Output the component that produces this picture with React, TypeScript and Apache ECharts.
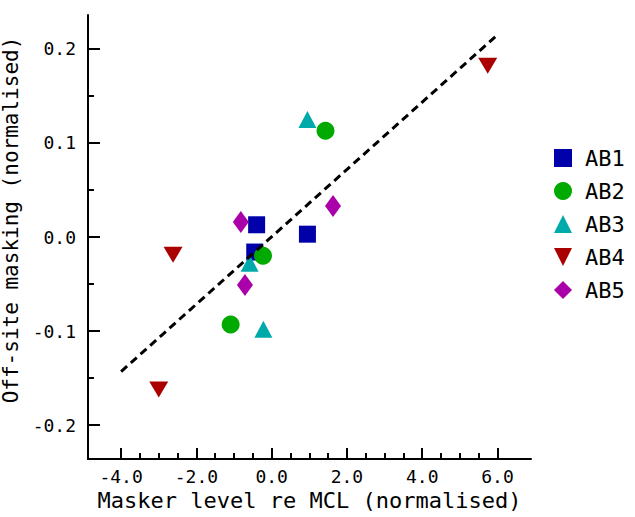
import React, { useEffect, useRef } from 'react';
import * as echarts from 'echarts';

const seriesNames = ['AB1', 'AB2', 'AB3', 'AB4', 'AB5'];
const seriesColors = ['#0000AA', '#00AA00', '#00AAAA', '#AA0000', '#AA00AA'];
const ab1 = [[-0.40, 0.013], [0.95, 0.003], [-0.45, -0.016]];
const ab2 = [[1.43, 0.113], [-0.23, -0.020], [-1.09, -0.093]];
const ab3 = [[0.95, 0.125], [-0.585, -0.028], [-0.22, -0.098]];
const ab4 = [[5.74, 0.182], [-2.62, -0.019], [-3.0, -0.162]];
const ab5 = [[-0.82, 0.016], [1.63, 0.033], [-0.71, -0.051]];
const fitLine = [[-4.0, -0.143], [6.0, 0.215]];

const xMajorTicks = [-4, -2, 0, 2, 4, 6];
const xMinorTicks = [-3.5, -3, -2.5, -1.5, -1, -0.5, 0.5, 1, 1.5, 2.5, 3, 3.5, 4.5, 5, 5.5];
const yMajorTicks = [-0.2, -0.1, 0, 0.1, 0.2];
const yMinorTicks = [-0.15, -0.05, 0.05, 0.15];

const X_MIN = -4.88;
const X_MAX = 6.89;
const Y_MIN = -0.236;
const Y_MAX = 0.236;

const FONT = 'DejaVu Sans Mono';

export default function App() {
  const ref = useRef<HTMLDivElement>(null);
  useEffect(() => {
    if (!ref.current) return;
    const chart = echarts.init(ref.current, null, { renderer: 'svg' });
    const axisLineStyle = { color: '#000', width: 2 };
    const symbols = ['rect', 'circle', 'triangle', 'path://M0,0L2,0L1,2Z', 'diamond'];
    const sizes: any[] = [17, 18, [18, 17], [19, 16], [16, 22]];
    const datas = [ab1, ab2, ab3, ab4, ab5];
    const scatter = seriesNames.map((name, i) => ({
      name,
      type: 'scatter',
      xAxisIndex: 0,
      yAxisIndex: 0,
      data: datas[i],
      symbol: symbols[i],
      symbolSize: sizes[i],
      itemStyle: { color: seriesColors[i], opacity: 1 },
      z: 2 + i,
    }));
    chart.setOption({
      animation: false,
      backgroundColor: '#fff',
      grid: { left: 88, right: 104, top: 15, bottom: 58, containLabel: false, outerBoundsMode: 'none' },
      legend: {
        data: seriesNames,
        orient: 'vertical',
        left: 549,
        top: 142,
        itemWidth: 18,
        itemHeight: 18,
        itemGap: 11,
        textStyle: { fontFamily: FONT, fontSize: 22, color: '#000', padding: [0, 0, 0, 8] },
      },
      xAxis: [
        {
          type: 'value',
          position: 'bottom',
          min: X_MIN,
          max: X_MAX,
          name: 'Masker level re MCL (normalised)',
          nameLocation: 'middle',
          nameGap: 30,
          nameTextStyle: { fontFamily: FONT, fontSize: 22, color: '#000' },
          axisLine: { show: true, onZero: false, lineStyle: axisLineStyle },
          axisTick: { show: true, inside: true, length: 11, lineStyle: axisLineStyle, customValues: xMajorTicks },
          axisLabel: {
            show: true,
            margin: 8,
            fontFamily: FONT,
            fontSize: 18,
            color: '#000',
            customValues: xMajorTicks,
            formatter: (v: number) => v.toFixed(1),
          },
          splitLine: { show: false },
        },
        {
          type: 'value',
          position: 'bottom',
          min: X_MIN,
          max: X_MAX,
          axisLine: { show: false, onZero: false },
          axisTick: { show: true, inside: true, length: 6, lineStyle: axisLineStyle, customValues: xMinorTicks },
          axisLabel: { show: false },
          splitLine: { show: false },
        },
      ],
      yAxis: [
        {
          type: 'value',
          position: 'left',
          min: Y_MIN,
          max: Y_MAX,
          name: 'Off-site masking (normalised)',
          nameLocation: 'middle',
          nameGap: 58,
          nameTextStyle: { fontFamily: FONT, fontSize: 21, color: '#000', padding: [0, 0, 0, 34] },
          axisLine: { show: true, onZero: false, lineStyle: axisLineStyle },
          axisTick: { show: true, inside: true, length: 12, lineStyle: axisLineStyle, customValues: yMajorTicks },
          axisLabel: {
            show: true,
            margin: 12,
            fontFamily: FONT,
            fontSize: 18,
            color: '#000',
            customValues: yMajorTicks,
            formatter: (v: number) => v.toFixed(1),
          },
          splitLine: { show: false },
        },
        {
          type: 'value',
          position: 'left',
          min: Y_MIN,
          max: Y_MAX,
          axisLine: { show: false, onZero: false },
          axisTick: { show: true, inside: true, length: 6, lineStyle: axisLineStyle, customValues: yMinorTicks },
          axisLabel: { show: false },
          splitLine: { show: false },
        },
      ],
      series: [
        ...scatter,
        {
          name: 'fit',
          type: 'line',
          xAxisIndex: 0,
          yAxisIndex: 0,
          data: fitLine,
          symbol: 'none',
          lineStyle: { color: '#000', width: 3, type: [8, 5] },
          z: 10,
          silent: true,
        },
      ],
    });
    return () => chart.dispose();
  }, []);
  return <div ref={ref} style={{ position: 'fixed', left: 0, top: 0, width: 635, height: 517 }} />;
}
